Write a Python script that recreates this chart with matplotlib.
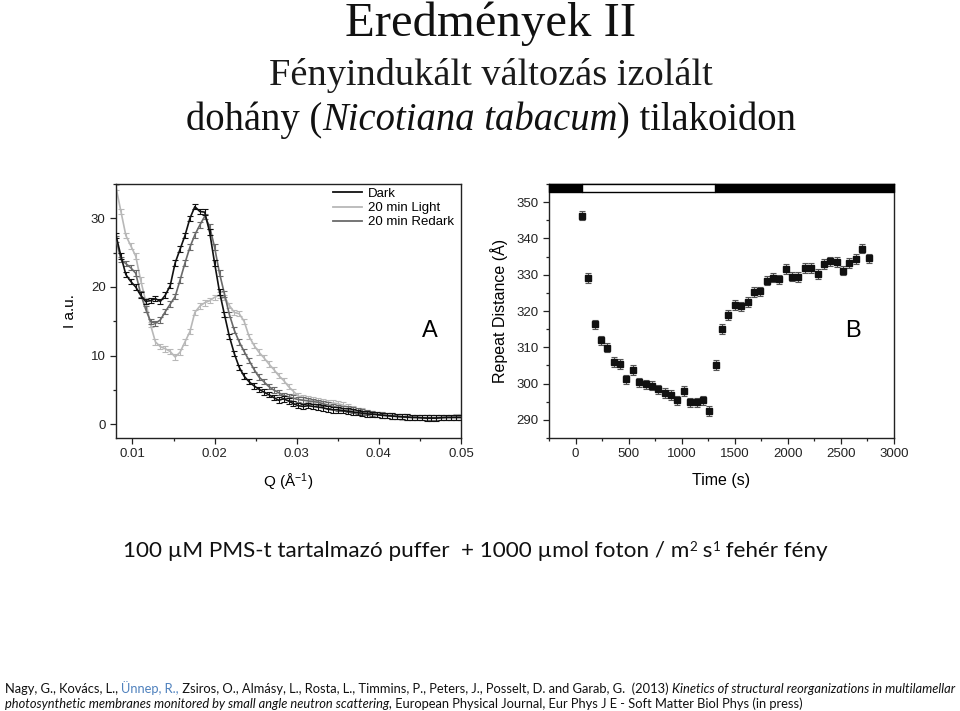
import matplotlib
matplotlib.use("Agg")
import matplotlib.pyplot as plt
from matplotlib.ticker import MultipleLocator
from matplotlib.lines import Line2D

# ---------------- data ----------------
q_values = [0.0080, 0.0086, 0.0092, 0.0098, 0.0104, 0.0110, 0.0116, 0.0122, 0.0128, 0.0134,
            0.0140, 0.0146, 0.0152, 0.0158, 0.0164, 0.0170, 0.0176, 0.0182, 0.0188, 0.0194,
            0.0200, 0.0206, 0.0212, 0.0218, 0.0224, 0.0230, 0.0236, 0.0242, 0.0248, 0.0254,
            0.0260, 0.0266, 0.0272, 0.0278, 0.0284, 0.0290, 0.0296, 0.0302, 0.0308, 0.0314,
            0.0320, 0.0326, 0.0332, 0.0338, 0.0344, 0.0350, 0.0356, 0.0362, 0.0368, 0.0374,
            0.0380, 0.0386, 0.0392, 0.0398, 0.0404, 0.0410, 0.0416, 0.0422, 0.0428, 0.0434,
            0.0440, 0.0446, 0.0452, 0.0458, 0.0464, 0.0470, 0.0476, 0.0482, 0.0488, 0.0494,
            0.0500]

dark = [27.5, 24.5, 21.8, 20.8, 20.0, 18.8, 17.9, 18.0, 18.3, 17.9,
        18.8, 20.2, 23.5, 25.5, 27.5, 30.0, 31.7, 31.0, 30.9, 28.0,
        23.5, 19.3, 16.0, 12.8, 10.3, 8.3, 7.0, 6.2, 5.6, 5.1,
        4.7, 4.3, 3.9, 3.5, 3.7, 3.4, 3.0, 2.7, 2.6, 2.7,
        2.6, 2.5, 2.4, 2.2, 2.1, 2.1, 2.0, 1.9, 1.8, 1.7,
        1.6, 1.5, 1.45, 1.4, 1.3, 1.25, 1.2, 1.15, 1.1, 1.05,
        1.0, 1.0, 0.95, 0.9, 0.9, 0.9, 0.95, 1.0, 1.0, 1.0,
        1.0]

light = [34.5, 31.0, 27.5, 26.0, 24.5, 21.0, 18.0, 14.5, 12.0, 11.3,
         11.0, 10.6, 9.8, 10.5, 12.0, 13.5, 16.3, 17.2, 17.7, 18.0,
         18.5, 18.8, 18.5, 17.3, 16.3, 16.1, 15.0, 12.8, 11.5, 10.5,
         9.7, 8.8, 8.0, 7.1, 6.4, 5.5, 4.8, 4.1, 3.9, 3.7,
         3.5, 3.4, 3.3, 3.2, 3.1, 3.0, 2.8, 2.5, 2.2, 2.0,
         1.9, 1.75, 1.6, 1.45, 1.35, 1.25, 1.15, 1.1, 1.05, 1.0,
         1.0, 0.97, 0.95, 0.95, 0.95, 0.97, 1.0, 1.0, 1.0, 1.05,
         1.05]

redark = [27.0, 24.0, 23.4, 22.8, 22.0, 19.0, 16.8, 15.0, 14.7, 15.2,
          16.4, 17.5, 18.6, 21.0, 23.5, 25.8, 27.6, 29.0, 30.3, 28.8,
          25.8, 22.0, 19.0, 16.0, 13.7, 12.0, 10.6, 9.3, 8.0, 6.9,
          6.2, 5.5, 5.0, 4.6, 4.2, 4.0, 3.8, 3.6, 3.5, 3.4,
          3.3, 3.2, 3.0, 2.8, 2.6, 2.4, 2.3, 2.2, 2.1, 1.95,
          1.8, 1.7, 1.55, 1.45, 1.35, 1.3, 1.2, 1.15, 1.1, 1.05,
          1.0, 1.0, 0.95, 0.95, 0.95, 0.95, 1.0, 1.0, 1.0, 1.0,
          1.0]
saxs_err = 0.4
series_labels = ["Dark", "20 min Light", "20 min Redark"]

times = [60, 120, 180, 240, 300, 360, 420, 480, 540, 600, 660, 720, 780, 840, 900, 960,
         1020, 1080, 1140, 1200, 1260, 1320, 1380, 1440, 1500, 1560, 1620, 1680, 1740,
         1800, 1860, 1920, 1980, 2040, 2100, 2160, 2220, 2280, 2340, 2400, 2460, 2520,
         2580, 2640, 2700, 2760]
repeat_distance = [346.3, 329.1, 316.3, 311.9, 309.9, 305.9, 305.4, 301.2, 303.7, 300.3,
                   299.8, 299.4, 298.4, 297.4, 296.8, 295.4, 297.9, 294.8, 294.8, 295.4,
                   292.4, 305.1, 315.0, 318.9, 321.7, 321.3, 322.5, 325.2, 325.4, 328.4,
                   329.2, 328.7, 331.6, 329.5, 329.4, 331.8, 331.8, 330.2, 332.9, 333.7,
                   333.5, 331.1, 333.2, 334.3, 337.2, 334.5]
repeat_err = 1.3
light_on, light_off = 62, 1318

# ---------------- figure ----------------
W, H = 960, 711
plt.rcParams["font.family"] = ["Liberation Sans", "DejaVu Sans"]
plt.rcParams["mathtext.fontset"] = "custom"
plt.rcParams["mathtext.rm"] = "Liberation Sans"
plt.rcParams["mathtext.it"] = "Liberation Sans:italic"
fig = plt.figure(figsize=(W / 100, H / 100), dpi=100)
fig.patch.set_facecolor("white")
renderer = fig.canvas.get_renderer()


def style_axes(ax):
    for s in ax.spines.values():
        s.set_linewidth(1.0)
        s.set_color("#222222")
    ax.tick_params(which="both", direction="out", top=False, right=False,
                   labelsize=9.5, colors="#222222", width=0.9)
    ax.tick_params(which="major", length=4)
    ax.tick_params(which="minor", length=2.5)


def axrect(l, t, r, b):
    return [l / W, 1 - b / H, (r - l) / W, (b - t) / H]


# Panel A
axA = fig.add_axes(axrect(116, 184, 461, 438))
cols = {"Dark": "#111111", "20 min Light": "#b8b8b8", "20 min Redark": "#6a6a6a"}
for lab, vals, z in [("20 min Light", light, 2), ("20 min Redark", redark, 3), ("Dark", dark, 4)]:
    axA.errorbar(q_values, vals, yerr=saxs_err, color=cols[lab], lw=1.2,
                 elinewidth=0.8, capsize=2.5, capthick=0.8, zorder=z)
axA.set_xlim(0.008, 0.05)
axA.set_ylim(-2, 35)
axA.xaxis.set_minor_locator(MultipleLocator(0.005))
axA.yaxis.set_major_locator(MultipleLocator(10))
axA.yaxis.set_minor_locator(MultipleLocator(5))
axA.set_xticks([0.01, 0.02, 0.03, 0.04, 0.05])
axA.set_xticklabels(["0.01", "0.02", "0.03", "0.04", "0.05"])
style_axes(axA)
axA.set_xlabel("Q (Å$^{-1}$)", fontsize=11, labelpad=8)
axA.set_ylabel("I a.u.", fontsize=11, labelpad=10)
handles = [Line2D([], [], color=cols[l], lw=1.3) for l in series_labels]
axA.legend(handles, series_labels, loc="upper left", bbox_to_anchor=(0.629, 0.985),
           frameon=False, fontsize=9.5, handlelength=2.2, handletextpad=0.45,
           labelspacing=0.15, borderpad=0, borderaxespad=0)
axA.text(0.91, 0.42, "A", transform=axA.transAxes, fontsize=17, ha="center", va="center")

# Panel B
axB = fig.add_axes(axrect(549, 184, 894, 438))
axB.errorbar(times, repeat_distance, yerr=repeat_err, fmt="s", color="#111111",
             ms=5, ecolor="#555555", elinewidth=0.8, capsize=2.5, capthick=0.8, zorder=3)
axB.set_xlim(-250, 3000)
axB.set_ylim(285, 355)
axB.broken_barh([(-250, light_on + 250), (light_off, 3000 - light_off)], (352.9, 2.1),
                facecolors="black", edgecolors="black", zorder=5, clip_on=False)
axB.broken_barh([(light_on, light_off - light_on)], (352.9, 2.1),
                facecolors="white", edgecolors="black", linewidth=1.0, zorder=5, clip_on=False)
axB.xaxis.set_major_locator(MultipleLocator(500))
axB.xaxis.set_minor_locator(MultipleLocator(250))
axB.set_yticks([290, 300, 310, 320, 330, 340, 350])
axB.yaxis.set_minor_locator(MultipleLocator(5))
style_axes(axB)
axB.set_xlabel("Time (s)", fontsize=11.5, labelpad=9)
axB.set_ylabel("Repeat Distance (Å)", fontsize=11.5, labelpad=6)
axB.text(0.88, 0.42, "B", transform=axB.transAxes, fontsize=17, ha="center", va="center")


# ---------------- rich text helpers ----------------
def measure(s, **kw):
    t = fig.text(0, 0, "|" + s + "|", **kw)
    w1 = t.get_window_extent(renderer).width
    t.remove()
    t2 = fig.text(0, 0, "||", **kw)
    w2 = t2.get_window_extent(renderer).width
    t2.remove()
    return w1 - w2


def runs_width(runs, scale):
    tot = 0
    for txt, kw, dy in runs:
        k = dict(kw)
        k["fontsize"] = k["fontsize"] * scale
        tot += measure(txt, **k)
    return tot


def draw_runs(runs, x, y, target=None, center=None):
    scale = 1.0
    if target is not None:
        scale = target / runs_width(runs, 1.0)
    total = runs_width(runs, scale)
    if center is not None:
        x = center - total / 2
    for txt, kw, dy in runs:
        k = dict(kw)
        k["fontsize"] = k["fontsize"] * scale
        fig.text(x / W, 1 - (y - dy * scale) / H, txt, ha="left", va="baseline", **k)
        x += measure(txt, **k)


serif = dict(family=["Liberation Serif"], fontsize=20, color="#111111")
serif_i = dict(serif, style="italic")
draw_runs([("Eredmények II", serif, 0)], 0, 36, target=292, center=491)
draw_runs([("Fényindukált változás izolált", dict(serif, color="#1a1a1a"), 0)], 0, 85, target=443, center=491)
draw_runs([("dohány (", serif, 0), ("Nicotiana tabacum", serif_i, 0),
           (") tilakoidon", serif, 0)], 0, 130, target=611, center=491)

cal = dict(family=["Lato", "DejaVu Sans"], fontsize=20, color="#111111")
cal_sup = dict(cal, fontsize=12)
draw_runs([("100 µM PMS-t tartalmazó puffer  + 1000 µmol foton / m", cal, 0),
           ("2", cal_sup, 8), (" s", cal, 0), ("1", cal_sup, 8),
           (" fehér fény", cal, 0)], 123, 557, target=705)

cit = dict(family=["Lato", "DejaVu Sans"], fontsize=10, color="#111111")
cit_i = dict(cit, style="italic")
cit_b = dict(cit, color="#4f81bd")
line1 = [("Nagy, G., Kovács, L., ", cit, 0), ("Ünnep, R.,", cit_b, 0),
         (" Zsiros, O., Almásy, L., Rosta, L., Timmins, P., Peters, J., Posselt, D. and Garab, G.  (2013) ", cit, 0),
         ("Kinetics of structural reorganizations in multilamellar", cit_i, 0)]
sc = 950 / runs_width(line1, 1.0)
draw_runs(line1, 5, 693, target=950)
line2 = [("photosynthetic membranes monitored by small angle neutron scattering,", cit_i, 0),
         (" European Physical Journal, Eur Phys J E - Soft Matter Biol Phys (in press)", cit, 0)]
draw_runs([(t, dict(k, fontsize=k["fontsize"] * sc), d) for t, k, d in line2], 5, 708)

fig.savefig("out.png", dpi=100, facecolor="white")
